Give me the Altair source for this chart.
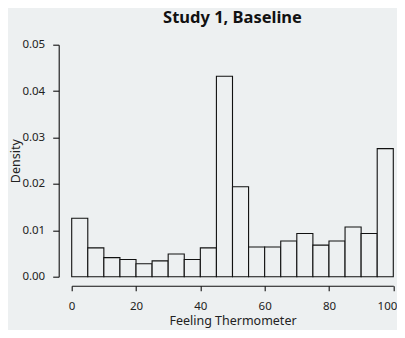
import altair as alt
import pandas as pd

bin_starts = [0, 5, 10, 15, 20, 25, 30, 35, 40, 45, 50, 55, 60, 65, 70, 75, 80, 85, 90, 95]
bin_width = 5
densities = [0.0126, 0.0062, 0.0041, 0.0037, 0.0028, 0.0034, 0.0049, 0.0037,
             0.0062, 0.0432, 0.0194, 0.0064, 0.0064, 0.0077, 0.0093, 0.0068,
             0.0077, 0.0107, 0.0093, 0.0276]
x_ticks = [0, 20, 40, 60, 80, 100]
y_ticks = [0.00, 0.01, 0.02, 0.03, 0.04, 0.05]

df = pd.DataFrame({
    "start": bin_starts,
    "end": [s + bin_width for s in bin_starts],
    "density": densities,
})

BG = "#edf0f1"
FONT = "Noto Sans"

chart = alt.Chart(df).mark_bar(
    fill=BG, stroke="#111111", strokeWidth=1.1
).encode(
    x=alt.X("start:Q",
            scale=alt.Scale(domain=[0, 100], nice=False, zero=False),
            axis=alt.Axis(values=x_ticks, title="Feeling Thermometer", offset=9,
                          grid=False, tickSize=5, labelPadding=10, titlePadding=2,
                          labelFlush=True, labelFlushOffset=3.5,
                          format="d")),
    x2="end:Q",
    y=alt.Y("density:Q",
            scale=alt.Scale(domain=[0, 0.05], nice=False),
            axis=alt.Axis(values=y_ticks, title="Density", offset=13, grid=False,
                          tickSize=6, labelPadding=8, format=".2f",
                          titleX=-36.5)),
    y2=alt.datum(0),
).properties(
    width=321.6,
    height=232,
    title=alt.Title("Study 1, Baseline", fontSize=16.5, fontWeight="bold",
                    anchor="middle", offset=12.5, font=FONT, color="#111111"),
    autosize=alt.AutoSizeParams(type="none"),
    padding={"left": 63.7, "top": 36.7, "right": 3.5, "bottom": 53},
    background=BG,
).configure_view(
    stroke=None
).configure_axis(
    labelFont=FONT, titleFont=FONT, labelFontSize=11.5, titleFontSize=12.5,
    labelColor="#222222", titleColor="#222222", titleFontWeight="normal",
    domainColor="#111111", tickColor="#111111", domainWidth=1.1, tickWidth=1.1,
)

chart.save("out.html", embed_options={"renderer": "svg", "actions": False})
